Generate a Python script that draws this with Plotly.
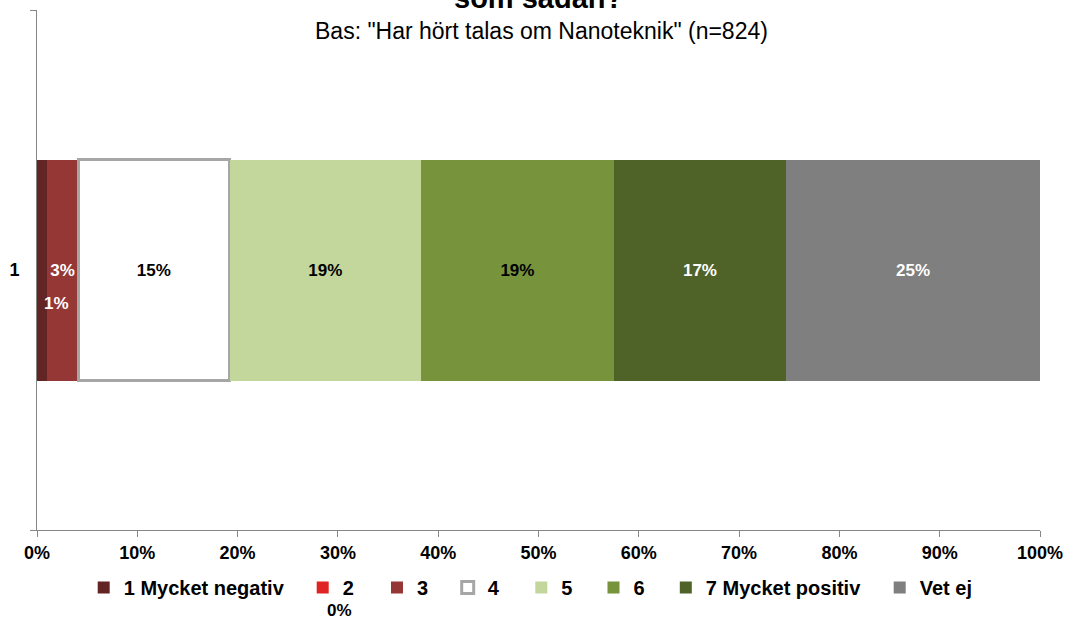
import plotly.graph_objects as go

# ---------------- data ----------------
categories = ["1"]
series_names = ["1 Mycket negativ", "2", "3", "4", "5", "6", "7 Mycket positiv", "Vet ej"]
values = [1.0, 0.0, 3.1, 15.1, 19.1, 19.2, 17.2, 25.3]
x_tick_values = [0, 10, 20, 30, 40, 50, 60, 70, 80, 90, 100]
x_tick_labels = [f"{v}%" for v in x_tick_values]
title_text = "som sådan?"
subtitle_text = 'Bas: "Har hört talas om Nanoteknik" (n=824)'

# ---------------- styles ----------------
colors = ["#632523", "#e02424", "#953735", "#ffffff", "#c3d69b", "#77933c", "#4f6228", "#7f7f7f"]
line_colors = ["#632523", "#e02424", "#953735", "#a6a6a6", "#c3d69b", "#77933c", "#4f6228", "#7f7f7f"]
line_widths = [0, 0, 0, 3, 0, 0, 0, 0]
label_colors = ["#ffffff", "#000000", "#ffffff", "#000000", "#000000", "#000000", "#ffffff", "#ffffff"]
inline_label = [False, False, True, True, True, True, True, True]
legend_text_px = [122.7, 341.7, 416.0, 486.7, 560.3, 632.5, 704.8, 918.7]

W, H = 1068, 621
ML, MR, MT, MB = 37, 28, 10, 91
PW = W - ML - MR
PH = H - MT - MB
FONT = "Liberation Sans, Arial, sans-serif"
AXIS_GREY = "#868686"

fig = go.Figure()
for i, (name, v) in enumerate(zip(series_names, values)):
    legend_id = "legend" if i == 0 else f"legend{i + 1}"
    fig.add_trace(go.Bar(
        name=name,
        y=categories,
        x=[v],
        orientation="h",
        width=0.425,
        marker=dict(color=colors[i], line=dict(color=line_colors[i], width=line_widths[i])),
        text=[f"{v:.0f}%"] if inline_label[i] else None,
        textposition="inside",
        insidetextanchor="middle",
        textangle=0,
        constraintext="none",
        textfont=dict(family=FONT, size=17, color=label_colors[i], weight="bold"),
        legend=legend_id,
        hoverinfo="name+x",
    ))

layout_legends = {}
for i, tx in enumerate(legend_text_px):
    legend_id = "legend" if i == 0 else f"legend{i + 1}"
    left_px = tx + 1 - 40
    layout_legends[legend_id] = dict(
        xref="container",
        yref="container",
        x=left_px / W,
        y=(H - 587.5) / H,
        xanchor="left",
        yanchor="middle",
        orientation="h",
        bgcolor="rgba(0,0,0,0)",
        borderwidth=0,
        font=dict(family=FONT, size=20, color="#000000", weight="bold"),
    )

fig.update_layout(
    width=W,
    height=H,
    margin=dict(l=ML, r=MR, t=MT, b=MB, pad=0, autoexpand=False),
    paper_bgcolor="#ffffff",
    plot_bgcolor="#ffffff",
    barmode="stack",
    showlegend=True,
    font=dict(family=FONT, color="#000000"),
    xaxis=dict(
        range=[0, 100],
        tickmode="array",
        tickvals=x_tick_values,
        ticktext=x_tick_labels,
        ticks="outside",
        ticklen=6,
        tickcolor=AXIS_GREY,
        showline=True,
        linecolor=AXIS_GREY,
        linewidth=1,
        showgrid=False,
        zeroline=False,
        automargin=False,
        tickfont=dict(family=FONT, size=18, color="#000000", weight="bold"),
        fixedrange=True,
    ),
    yaxis=dict(
        type="category",
        range=[-0.5, 0.5],
        ticks="outside",
        ticklen=6,
        tickcolor=AXIS_GREY,
        tickson="boundaries",
        showline=True,
        linecolor=AXIS_GREY,
        linewidth=1,
        showgrid=False,
        zeroline=False,
        automargin=False,
        ticklabelstandoff=13,
        tickfont=dict(family=FONT, size=18, color="#000000", weight="bold"),
        fixedrange=True,
    ),
    **layout_legends,
)

# title (cropped at top) and subtitle
fig.add_annotation(
    text=title_text, xref="paper", yref="paper",
    x=(538 - ML) / PW, y=(MT + PH - (-2)) / PH,
    xanchor="center", yanchor="middle", showarrow=False,
    font=dict(family=FONT, size=29, color="#000000", weight="bold"),
)
fig.add_annotation(
    text=subtitle_text, xref="paper", yref="paper",
    x=(541 - ML) / PW, y=(MT + PH - 31) / PH,
    xanchor="center", yanchor="middle", showarrow=False,
    font=dict(family=FONT, size=23, color="#000000"),
)

# data label of series 1 (small segment), shown below the bar centre
fig.add_annotation(
    text=f"{values[0]:.0f}%", xref="x", yref="y",
    x=values[0] / 2, y=0, xshift=14, yshift=-33,
    showarrow=False,
    font=dict(family=FONT, size=17, color=label_colors[0], weight="bold"),
)
# data label of series 2 (zero value) – sits below its legend entry
fig.add_annotation(
    text=f"{values[1]:.0f}%", xref="paper", yref="paper",
    x=(339 - ML) / PW, y=(MT + PH - 610) / PH,
    xanchor="center", yanchor="middle", showarrow=False,
    font=dict(family=FONT, size=17, color="#000000", weight="bold"),
)

fig.write_html("out.html", config={"displayModeBar": False},
               post_script="document.body.style.margin='0';")
